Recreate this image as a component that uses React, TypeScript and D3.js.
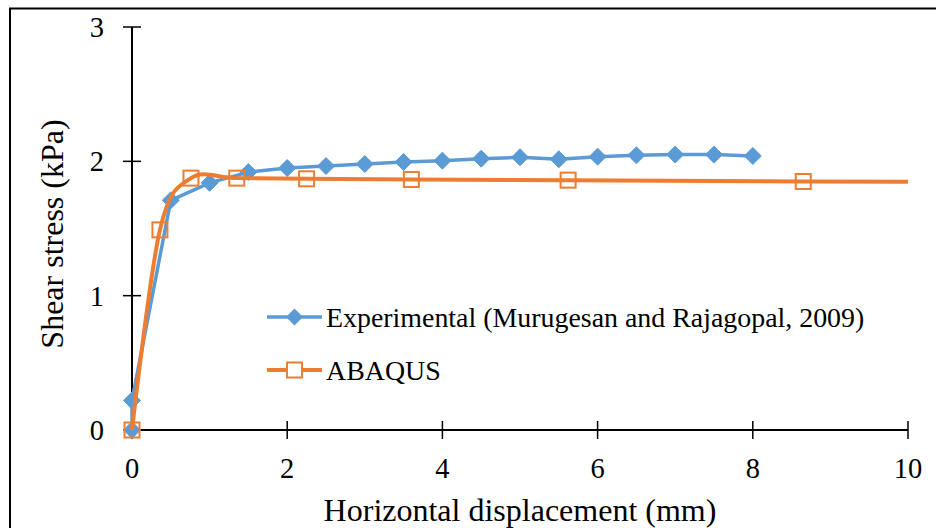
import React from "react";
import * as d3 from "d3";

// Experimental shear stress vs horizontal displacement
const expX = [0, 0, 0.5, 1.0, 1.5, 2.0, 2.5, 3.0, 3.5, 4.0, 4.5, 5.0, 5.5, 6.0, 6.5, 7.0, 7.5, 8.0];
const expY = [0, 0.22, 1.71, 1.84, 1.92, 1.95, 1.965, 1.98, 1.995, 2.005, 2.02, 2.03, 2.015, 2.035, 2.045, 2.05, 2.05, 2.04];

// ABAQUS results (last point lies beyond the axis and is clipped)
const abqX = [0, 0.36, 0.76, 1.35, 2.25, 3.6, 5.62, 8.65, 13.2];
const abqY = [0, 1.49, 1.875, 1.875, 1.87, 1.865, 1.86, 1.85, 1.845];

const xTicks = [0, 2, 4, 6, 8, 10];
const yTicks = [0, 1, 2, 3];

const seriesNames = ["Experimental (Murugesan and Rajagopal, 2009)", "ABAQUS"];
const xTitle = "Horizontal displacement (mm)";
const yTitle = "Shear stress (kPa)";

const BLUE = "#5B9BD5";
const ORANGE = "#ED7D31";
const SERIF = '"Liberation Serif", "Times New Roman", serif';
const tickStyle: React.CSSProperties = { fontFamily: SERIF, fontSize: "28.5px" };
const legendStyle: React.CSSProperties = { fontFamily: SERIF, fontSize: "27.9px" };
const titleStyle: React.CSSProperties = { fontFamily: SERIF, fontSize: "32px" };

export default function App() {
  const W = 936;
  const H = 528;
  const x = d3.scaleLinear().domain([0, 10]).range([132, 908]);
  const y = d3.scaleLinear().domain([0, 3]).range([430, 27]);

  const expPts = expX.map((v, i) => [x(v), y(expY[i])] as [number, number]);
  const abqPts = abqX.map((v, i) => [x(v), y(abqY[i])] as [number, number]);

  const straight = d3.line().curve(d3.curveLinear);
  const smooth = d3.line().curve(d3.curveCatmullRom.alpha(0));

  const diamond = (cx: number, cy: number, r: number) =>
    `M${cx},${cy - r}L${cx + r},${cy}L${cx},${cy + r}L${cx - r},${cy}Z`;

  const visibleAbq = abqPts.filter((_, i) => abqX[i] <= 10);

  return (
    <svg width={W} height={H} style={{ position: "absolute", left: 0, top: 0, background: "#fff" }}>
      <defs>
        <clipPath id="plotClip">
          <rect x={x(0) - 20} y={y(3) - 20} width={x(10) - x(0) + 20} height={y(0) - y(3) + 40} />
        </clipPath>
      </defs>
      <rect x={0} y={0} width={W} height={H} fill="#fff" />
      {/* chart frame */}
      <rect x={10} y={8.5} width={W + 20} height={H + 20} fill="none" stroke="#000" strokeWidth={2} />

      {/* axes */}
      <line x1={x(0)} x2={x(10)} y1={y(0)} y2={y(0)} stroke="#000" strokeWidth={2} />
      <line x1={x(0)} x2={x(0)} y1={y(0)} y2={y(3)} stroke="#000" strokeWidth={2} />
      {xTicks.map((t) => (
        <g key={"xt" + t}>
          <line x1={x(t)} x2={x(t)} y1={y(0) - 9} y2={y(0) + 9} stroke="#000" strokeWidth={1.5} />
          <text x={x(t)} y={478} textAnchor="middle" style={tickStyle} fill="#000">
            {t}
          </text>
        </g>
      ))}
      {yTicks.map((t) => (
        <g key={"yt" + t}>
          <line x1={x(0) - 9} x2={x(0) + 9} y1={y(t)} y2={y(t)} stroke="#000" strokeWidth={1.5} />
          <text x={104} y={y(t) + 10} textAnchor="end" style={tickStyle} fill="#000">
            {t}
          </text>
        </g>
      ))}

      {/* axis titles */}
      <text x={520} y={521} textAnchor="middle" style={titleStyle} fill="#000">
        {xTitle}
      </text>
      <text transform={`translate(63,234) rotate(-90)`} textAnchor="middle" style={titleStyle} fill="#000">
        {yTitle}
      </text>

      {/* experimental series */}
      <path d={straight(expPts) || ""} fill="none" stroke={BLUE} strokeWidth={3.5} strokeLinejoin="round" />
      {expPts.map((p, i) => (
        <path key={"e" + i} d={diamond(p[0], p[1], 8.5)} fill={BLUE} stroke={BLUE} strokeWidth={1} />
      ))}

      {/* ABAQUS series */}
      <g clipPath="url(#plotClip)">
        <path d={smooth(abqPts) || ""} fill="none" stroke={ORANGE} strokeWidth={4} strokeLinejoin="round" />
      </g>
      {visibleAbq.map((p, i) => (
        <rect
          key={"a" + i}
          x={p[0] - 7.5}
          y={p[1] - 7.5}
          width={15}
          height={15}
          fill="none"
          stroke={ORANGE}
          strokeWidth={2}
        />
      ))}

      {/* legend */}
      <line x1={267} x2={322} y1={317} y2={317} stroke={BLUE} strokeWidth={3.5} />
      <path d={diamond(294.5, 317, 8.5)} fill={BLUE} />
      <text x={326} y={327} style={legendStyle} fill="#000">
        {seriesNames[0]}
      </text>
      <line x1={267} x2={322} y1={370} y2={370} stroke={ORANGE} strokeWidth={4} />
      <rect x={287} y={362.5} width={15} height={15} fill="#fff" stroke={ORANGE} strokeWidth={2} />
      <text x={326} y={380} style={legendStyle} fill="#000">
        {seriesNames[1]}
      </text>
    </svg>
  );
}
